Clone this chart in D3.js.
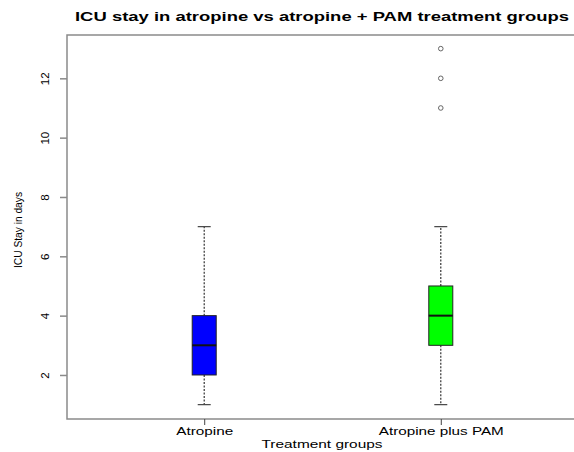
<!DOCTYPE html>
<html><head><meta charset="utf-8">
<script src="https://cdn.jsdelivr.net/npm/d3@7"></script>
<style>body{margin:0;background:#fff;overflow:hidden}svg{display:block}</style>
</head><body>
<script>
const categories = ["Atropine", "Atropine plus PAM"];
const whiskerLow = [1, 1];
const q1 = [2, 3];
const median = [3, 4];
const q3 = [4, 5];
const whiskerHigh = [7, 7];
const outliers = [[], [11, 12, 13]];
const colors = ["#0000ff", "#00ff00"];
const yTicks = [2, 4, 6, 8, 10, 12];

const W = 574, H = 452;
const svg = d3.select("body").append("svg").attr("width", W).attr("height", H);
const mLeft = 67, mRight = 578, mTop = 35, mBottom = 419;

const x = d3.scalePoint().domain(categories).range([mLeft, mRight]).padding(0.58);
const y = d3.scaleLinear().domain([0.516, 13.46]).range([mBottom, mTop]);

const axisCol = "#8a8a8a";
// frame (right edge lies outside the picture, as in the reference)
svg.append("rect").attr("x", mLeft).attr("y", mTop).attr("width", mRight + 20 - mLeft).attr("height", mBottom - mTop)
  .attr("fill", "none").attr("stroke", axisCol).attr("stroke-width", 1.5);

// y axis
const yAxis = svg.append("g").attr("transform", `translate(${mLeft},0)`)
  .call(d3.axisLeft(y).tickValues(yTicks).tickSize(7).tickFormat(d3.format("d")));
yAxis.select(".domain").remove();
yAxis.selectAll("line").attr("stroke", axisCol).attr("stroke-width", 1.5);
yAxis.selectAll("text").remove();
yAxis.selectAll(".tick").append("text")
  .attr("transform", "translate(-22,0) rotate(-90)")
  .attr("text-anchor", "middle").attr("dy", "0.35em")
  .attr("font-family", "Liberation Sans, Arial, sans-serif").attr("font-size", 11.5).attr("fill", "#000")
  .text(d => d);

// x axis
const xAxis = svg.append("g").attr("transform", `translate(0,${mBottom})`)
  .call(d3.axisBottom(x).tickSize(6));
xAxis.select(".domain").remove();
xAxis.selectAll("line").attr("stroke", "#444").attr("stroke-width", 1);
xAxis.selectAll("text").remove();
const xlabW = [57, 125];
xAxis.selectAll(".tick").append("text")
  .attr("y", 16).attr("text-anchor", "middle")
  .attr("font-family", "Liberation Sans, Arial, sans-serif").attr("font-size", 11.5).attr("fill", "#000")
  .attr("textLength", (d, i) => xlabW[i]).attr("lengthAdjust", "spacingAndGlyphs")
  .text(d => d);

// boxes
const boxW = 24, capW = 13;
const g = svg.append("g");
categories.forEach((c, i) => {
  const cx = x(c);
  g.append("line").attr("x1", cx).attr("x2", cx).attr("y1", y(q3[i])).attr("y2", y(whiskerHigh[i]))
    .attr("stroke", "#333").attr("stroke-width", 1.2).attr("stroke-dasharray", "2,1.5");
  g.append("line").attr("x1", cx).attr("x2", cx).attr("y1", y(q1[i])).attr("y2", y(whiskerLow[i]))
    .attr("stroke", "#333").attr("stroke-width", 1.2).attr("stroke-dasharray", "2,1.5");
  [whiskerHigh[i], whiskerLow[i]].forEach(v => {
    g.append("line").attr("x1", cx - capW / 2).attr("x2", cx + capW / 2).attr("y1", y(v)).attr("y2", y(v))
      .attr("stroke", "#444").attr("stroke-width", 1.2);
  });
  g.append("rect").attr("x", cx - boxW / 2).attr("width", boxW)
    .attr("y", y(q3[i])).attr("height", y(q1[i]) - y(q3[i]))
    .attr("fill", colors[i]).attr("stroke", "#222").attr("stroke-width", 1);
  g.append("line").attr("x1", cx - boxW / 2).attr("x2", cx + boxW / 2).attr("y1", y(median[i])).attr("y2", y(median[i]))
    .attr("stroke", "#111").attr("stroke-width", 2);
  outliers[i].forEach(v => {
    g.append("circle").attr("cx", cx).attr("cy", y(v)).attr("r", 2.3)
      .attr("fill", "none").attr("stroke", "#666").attr("stroke-width", 1);
  });
});

// titles
svg.append("text").attr("x", 322).attr("y", 21).attr("text-anchor", "middle")
  .attr("font-family", "Liberation Sans, Arial, sans-serif").attr("font-weight", "bold").attr("font-size", 13)
  .attr("textLength", 494).attr("lengthAdjust", "spacingAndGlyphs")
  .text("ICU stay in atropine vs atropine + PAM treatment groups");
svg.append("text").attr("x", 322).attr("y", 448).attr("text-anchor", "middle")
  .attr("font-family", "Liberation Sans, Arial, sans-serif").attr("font-size", 11.5)
  .attr("textLength", 121).attr("lengthAdjust", "spacingAndGlyphs")
  .text("Treatment groups");
svg.append("text").attr("transform", "translate(22,230) rotate(-90)").attr("text-anchor", "middle")
  .attr("font-family", "Liberation Sans Narrow, Liberation Sans, Arial, sans-serif").attr("font-size", 11)
  .attr("textLength", 76).attr("lengthAdjust", "spacingAndGlyphs")
  .text("ICU Stay in days");
</script>
</body></html>
